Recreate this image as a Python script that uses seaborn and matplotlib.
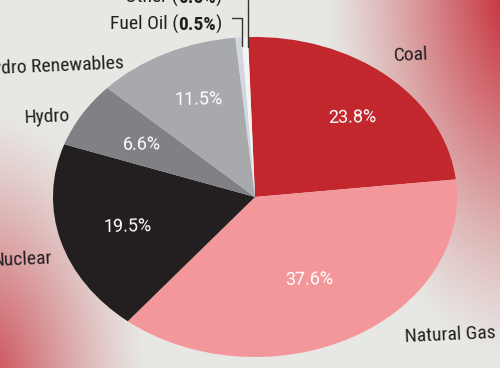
import numpy as np
import matplotlib.pyplot as plt
from matplotlib.lines import Line2D
import seaborn as sns

sns.set_theme(style="white")
plt.rcParams['font.family'] = ['Roboto Condensed', 'Roboto', 'DejaVu Sans']

# data
categories = ['Coal', 'Natural Gas', 'Nuclear', 'Hydro', 'Non-hydro Renewables', 'Fuel Oil', 'Other']
shares = [23.8, 37.6, 19.5, 6.6, 11.5, 0.5, 0.5]
colors = ['#c1272d', '#f4979a', '#231f20', '#808184', '#a7a9ac', '#d3d6dd', '#f4f4f4']

W, H = 500, 368
fig = plt.figure(figsize=(W / 100, H / 100), dpi=100)

def fpos(x, y):  # pixel (top-left origin) -> figure fraction
    return x / W, 1 - y / H

# background: light grey with red glow in two corners
yy, xx = np.mgrid[0:H, 0:W] + 0.5
def blob(cx, cy, sx, sy, r0, r1):
    d = np.hypot((xx - cx) / sx, (yy - cy) / sy)
    return np.clip((r1 - d) / (r1 - r0), 0, 1) ** 1.2
t = np.maximum(blob(525, -20, 1.0, 1.9, 20, 200),
               0.85 * blob(-20, 390, 1.0, 1.7, 10, 165))[..., None]
bg = np.array([0.906, 0.906, 0.894])
red = np.array([0.78, 0.19, 0.23])
bg_ax = fig.add_axes([0, 0, 1, 1])
bg_ax.imshow(bg * (1 - t) + red * t, extent=(0, 1, 0, 1), aspect='auto')
bg_ax.axis('off')

# pie (squashed into an ellipse, partly cropped)
ax = fig.add_axes([0, 0, 1, 1])
ax.patch.set_alpha(0)
ax.pie(shares, colors=colors, startangle=92, counterclock=False,
       wedgeprops=dict(linewidth=0))
cx, cy, rx, ry = 255, 197, 202, 160
ax.set_aspect('auto')
ax.set_xlim(-cx / rx, (W - cx) / rx)
ax.set_ylim(-(H - cy) / ry, cy / ry)
ax.axis('off')

txt = '#231f20'
fs = 14
# category labels
cat_pos = {'Coal': (411, 55, 'center'), 'Natural Gas': (450, 335, 'center'),
           'Nuclear': (52, 258, 'right'), 'Hydro': (47, 117, 'center'),
           'Non-hydro Renewables': (124, 63, 'right')}
for name in categories[:5]:
    x, y, ha = cat_pos[name]
    fig.text(*fpos(x, y), name, ha=ha, va='center', fontsize=fs, color=txt,
             rotation=2.5, rotation_mode='anchor')

# percentage labels inside the slices
pct_pos = [(352, 118), (309, 280), (128, 227), (142, 145), (199, 100)]
for v, (x, y) in zip(shares[:5], pct_pos):
    fig.text(*fpos(x, y), f'{v}%', ha='center', va='center', fontsize=13,
             family='Roboto', color='white', rotation=1, rotation_mode='anchor')

# small slices: label with bold value + leader line (right aligned)
for name, v, y in zip(categories[5:], shares[5:], [30, 3]):
    t3 = fig.text(*fpos(222, y), ')', ha='right', va='baseline', fontsize=fs, color=txt)
    t2 = ax.annotate(f'{v}%', xy=(0, 0), xycoords=t3, ha='right', va='bottom',
                     fontsize=fs, fontweight='bold', color=txt)
    ax.annotate(f'{name} (', xy=(0, 0), xycoords=t2, ha='right', va='bottom',
                fontsize=fs, color=txt)

for xs, ys in [([232, 242, 242], [18, 18, 46]), ([248, 248], [0, 47])]:
    fig.add_artist(Line2D([x / W for x in xs], [1 - y / H for y in ys],
                          transform=fig.transFigure, color='#333333', lw=1))

fig.savefig('out.png', dpi=100)
